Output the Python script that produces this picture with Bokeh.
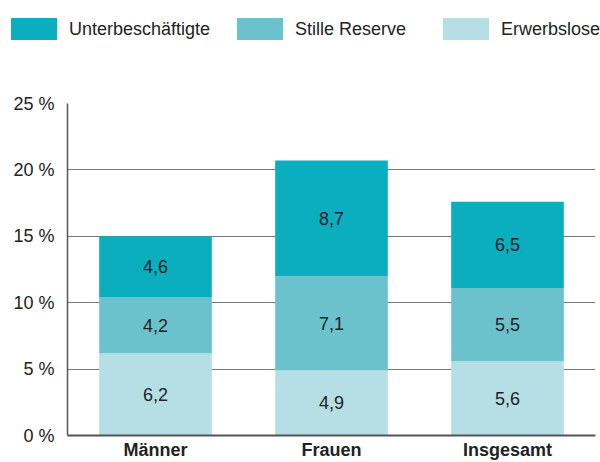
from bokeh.plotting import figure
from bokeh.layouts import column
from bokeh.models import ColumnDataSource, LabelSet, Div, PrintfTickFormatter, FixedTicker, Range1d
from bokeh.core.properties import value
from bokeh.embed import file_html
from bokeh.resources import INLINE

categories = ["Männer", "Frauen", "Insgesamt"]
erwerbslose = [6.2, 4.9, 5.6]
stille_reserve = [4.2, 7.1, 5.5]
unterbeschaeftigte = [4.6, 8.7, 6.5]
series_names = ["Erwerbslose", "Stille Reserve", "Unterbeschäftigte"]
colors = ["#B6DEE5", "#6BC2CD", "#0AAEBE"]
y_ticks = [0, 5, 10, 15, 20, 25]

FONT = "Liberation Sans"
FS = "18px"
TXT = "#222222"

def fmt(v):
    return f"{v:.1f}".replace(".", ",")

data = {"cat": categories, "Erwerbslose": erwerbslose,
        "Stille Reserve": stille_reserve, "Unterbeschäftigte": unterbeschaeftigte}
src = ColumnDataSource(data)

# ---- legend strip (HTML) ----
LEG_H = 80
legend_left = [11, 237, 443]
order = [2, 1, 0]
parts = []
for left, idx in zip(legend_left, order):
    parts.append(
        f'<span style="position:absolute;left:{left}px;top:18px;width:46px;height:22px;'
        f'background:{colors[idx]};"></span>'
        f'<span style="position:absolute;left:{left + 58}px;top:18px;line-height:22px;'
        f'white-space:nowrap;">{series_names[idx]}</span>')
html = (f'<div style="position:relative;width:600px;height:{LEG_H}px;'
        f'font-family:\'{FONT}\';font-size:{FS};color:{TXT};">' + "".join(parts) + '</div>')
leg = Div(text=html, width=600, height=LEG_H, margin=(0, 0, 0, 0))

# ---- main chart ----
p = figure(x_range=categories, width=600, height=462 - LEG_H, output_backend="svg",
           toolbar_location=None, min_border_left=67, min_border_right=5,
           min_border_top=103 - LEG_H, min_border_bottom=0)
p.y_range = Range1d(0, 25)
p.x_range.range_padding = 0
p.outline_line_color = None

p.vbar_stack(series_names, x="cat", width=0.64, color=colors, line_color=None, source=src)

lx, ly, lt = [], [], []
base = [0.0] * len(categories)
for vals in (erwerbslose, stille_reserve, unterbeschaeftigte):
    for i, c in enumerate(categories):
        lx.append(c)
        ly.append(base[i] + vals[i] / 2)
        lt.append(fmt(vals[i]))
        base[i] += vals[i]
lsrc = ColumnDataSource(dict(x=lx, y=ly, t=lt))
p.add_layout(LabelSet(x="x", y="y", text="t", source=lsrc, text_align="center",
                      text_baseline="middle", text_font=value(FONT), text_font_size=FS,
                      text_color=TXT))

p.yaxis.ticker = FixedTicker(ticks=y_ticks)
p.yaxis.formatter = PrintfTickFormatter(format="%d %%")
p.yaxis.major_tick_line_color = None
p.yaxis.major_tick_out = 0
p.yaxis.minor_tick_line_color = None
p.yaxis.minor_tick_out = 0
p.yaxis.axis_line_color = "#555555"
p.yaxis.axis_line_width = 1.5
p.yaxis.major_label_text_font = FONT
p.yaxis.major_label_text_font_size = FS
p.yaxis.major_label_text_color = TXT
p.yaxis.major_label_standoff = 13

p.xaxis.major_tick_line_color = None
p.xaxis.major_tick_out = 0
p.xaxis.axis_line_color = "#555555"
p.xaxis.axis_line_width = 2
p.xaxis.major_label_text_font = FONT
p.xaxis.major_label_text_font_size = FS
p.xaxis.major_label_text_font_style = "bold"
p.xaxis.major_label_text_color = TXT
p.xaxis.major_label_standoff = 4

p.xgrid.grid_line_color = None
p.ygrid.grid_line_color = "#777777"
p.ygrid.grid_line_width = 1

layout = column(leg, p, spacing=0)
open("out.html", "w").write(file_html(layout, INLINE))
